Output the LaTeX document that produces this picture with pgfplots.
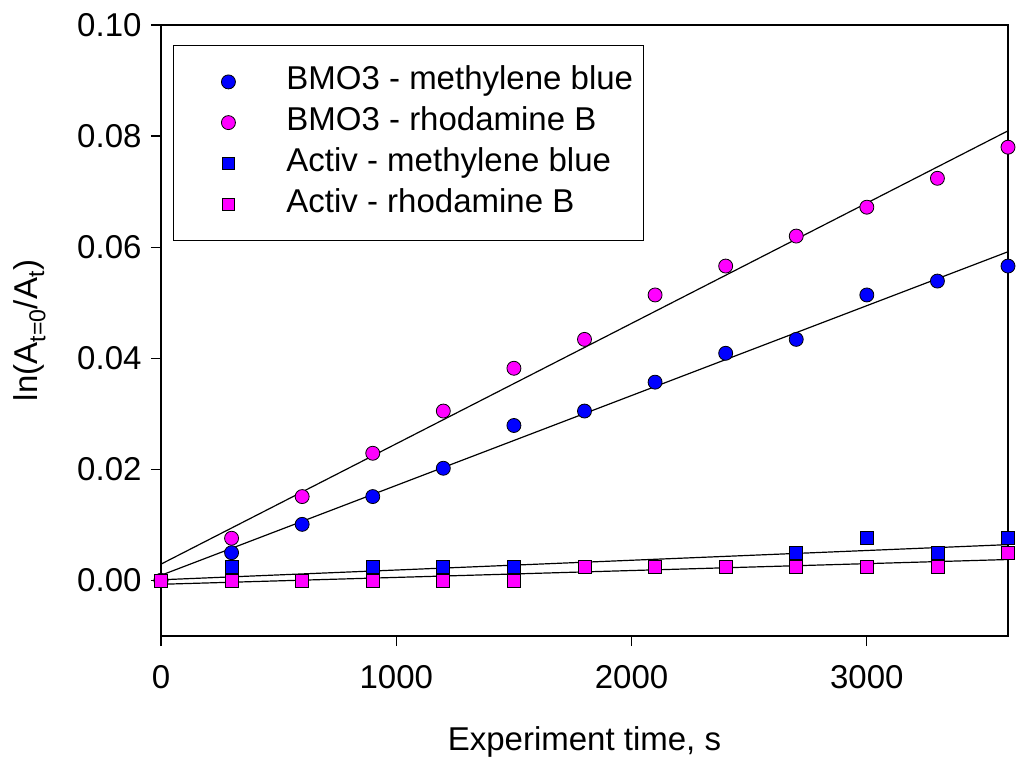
\documentclass[border=0pt]{standalone}
\usepackage{fontspec}
\setmainfont{Liberation Sans}
\usepackage{pgfplots}
\pgfplotsset{compat=1.18}
\definecolor{mblue}{RGB}{0,0,255}
\definecolor{mmag}{RGB}{255,0,255}
\begin{document}
\begin{tikzpicture}
\useasboundingbox (-161pt,-130pt) rectangle (863pt,636pt);
\begin{axis}[
  at={(0,0)}, anchor=south west,
  scale only axis, width=847pt, height=611pt,
  xmin=0, xmax=3600, ymin=-0.01, ymax=0.10,
  xtick={0,1000,2000,3000},
  ytick={0,0.02,0.04,0.06,0.08,0.10},
  xtick pos=bottom, ytick pos=left,
  tick align=outside, major tick length=10pt,
  axis line style={line width=1.2pt},
  tick style={line width=1.2pt, black},
  font=\fontsize{33pt}{39pt}\selectfont,
  /pgf/number format/assume math mode=true,
  x tick label style={yshift=-16pt, /pgf/number format/1000 sep={}},
  y tick label style={xshift=-6pt, /pgf/number format/.cd, fixed, fixed zerofill, precision=2},
  xlabel={Experiment time, s},
  ylabel={ln(A\textsubscript{t=0}/A\textsubscript{t})},
  xlabel style={at={(axis description cs:0.5,-0.1866)}, anchor=base},
  ylabel style={at={(axis description cs:-0.155,0.5)}, anchor=center},
  legend style={at={(0.0142,0.967)}, anchor=north west, draw=black, line width=0.8pt,
    inner xsep=0pt, inner ysep=16pt, row sep=0pt,
    nodes={text height=22pt, text depth=6pt, inner ysep=6.35pt, inner xsep=10pt},
    fill=white},
  legend cell align=left,
  legend image code/.code={\path[draw=none,fill=none] (-55pt,0) -- (48pt,0);\draw[#1, line width=0.8pt] plot coordinates {(0pt,0pt)};},
]
\addlegendimage{only marks, mark=*, mark size=7pt, mark options={fill=mblue, draw=black}}
\addlegendentry{BMO3 - methylene blue}
\addlegendimage{only marks, mark=*, mark size=7pt, mark options={fill=mmag, draw=black}}
\addlegendentry{BMO3 - rhodamine B}
\addlegendimage{only marks, mark=square*, mark size=6pt, mark options={fill=mblue, draw=black}}
\addlegendentry{Activ - methylene blue}
\addlegendimage{only marks, mark=square*, mark size=6pt, mark options={fill=mmag, draw=black}}
\addlegendentry{Activ - rhodamine B}

% regression lines
\addplot[forget plot, black, line width=1.2pt] coordinates {(0,0.00294) (3600,0.08095)};
\addplot[forget plot, black, line width=1.2pt] coordinates {(0,0.00093) (3600,0.05918)};
\addplot[forget plot, black, line width=1.2pt] coordinates {(0,0.00012) (3600,0.00645)};
\addplot[forget plot, black, line width=1.2pt] coordinates {(0,-0.00069) (3600,0.00377)};

% BMO3 - rhodamine B
\addplot[forget plot, only marks, mark=*, mark size=7pt, mark options={fill=mmag, draw=black, line width=0.8pt}] coordinates {
(0,0) (300,0.0076) (600,0.0151) (900,0.0229) (1200,0.0305) (1500,0.0382) (1800,0.0434)
(2100,0.0514) (2400,0.0566) (2700,0.0620) (3000,0.0672) (3300,0.0724) (3600,0.0780)};
% BMO3 - methylene blue
\addplot[forget plot, only marks, mark=*, mark size=7pt, mark options={fill=mblue, draw=black, line width=0.8pt}] coordinates {
(0,0) (300,0.0050) (600,0.0101) (900,0.0151) (1200,0.0202) (1500,0.0279) (1800,0.0305)
(2100,0.0357) (2400,0.0409) (2700,0.0434) (3000,0.0514) (3300,0.0539) (3600,0.0566)};
% Activ - methylene blue
\addplot[forget plot, only marks, mark=square*, mark size=6.5pt, mark options={fill=mblue, draw=black, line width=0.8pt}] coordinates {
(0,0) (300,0.0025) (600,0) (900,0.0025) (1200,0.0025) (1500,0.0025) (1800,0.0025)
(2100,0.0025) (2400,0.0025) (2700,0.0050) (3000,0.0076) (3300,0.0050) (3600,0.0076)};
% Activ - rhodamine B
\addplot[forget plot, only marks, mark=square*, mark size=6.5pt, mark options={fill=mmag, draw=black, line width=0.8pt}] coordinates {
(0,0) (300,0) (600,0) (900,0) (1200,0) (1500,0) (1800,0.0025)
(2100,0.0025) (2400,0.0025) (2700,0.0025) (3000,0.0025) (3300,0.0025) (3600,0.0050)};
\end{axis}
\end{tikzpicture}
\end{document}
